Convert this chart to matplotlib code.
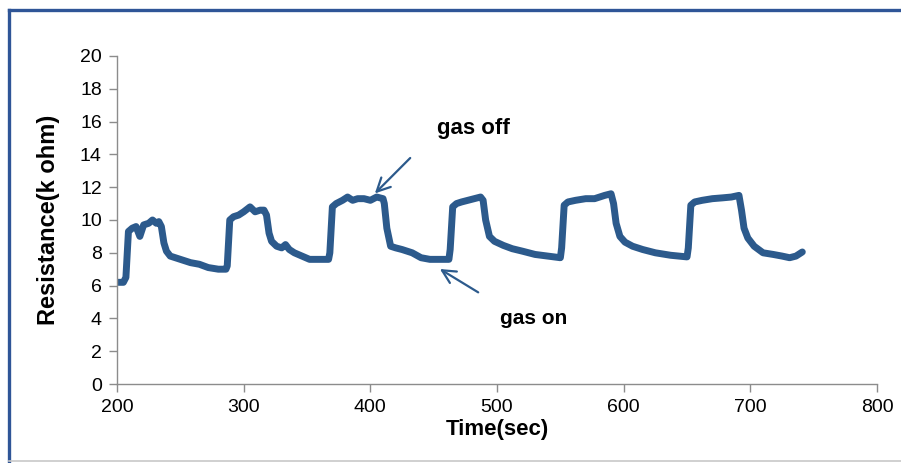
"""Sensor resistance response to repeated gas on/off cycles."""

import matplotlib

matplotlib.use("Agg")
import matplotlib.pyplot as plt  # noqa: E402
from matplotlib.patches import Rectangle  # noqa: E402

# time (s) and resistance (k ohm)
time_s = [
    200, 205, 207, 209, 212, 215, 218, 221, 225, 228, 231, 233, 235, 237, 239, 242,
    250, 258, 265, 272, 280, 286, 287, 289, 292, 296, 300, 305, 309, 313, 316, 318,
    320, 322, 326, 330, 333, 336, 340, 346, 352, 360, 367, 368, 370, 373, 378, 382,
    386, 390, 395, 400, 405, 410, 411, 413, 416, 420, 425, 433, 440, 447, 455, 462,
    463, 465, 468, 472, 477, 482, 487, 489, 491, 494, 498, 505, 512, 520, 530, 540, 550,
    551, 553, 556, 562, 570, 577, 585, 590, 592, 594, 597, 601, 607, 615, 625, 637,
    650, 651, 653, 656, 662, 670, 678, 685, 691, 693, 695, 698, 703, 710, 718, 725,
    731, 736, 741,
]
resistance = [
    6.2, 6.2, 6.5, 9.3, 9.5, 9.6, 9.0, 9.7, 9.8, 10.0, 9.8, 9.9, 9.6, 8.6, 8.1, 7.8,
    7.6, 7.4, 7.3, 7.1, 7.0, 7.0, 7.2, 10.0, 10.2, 10.3, 10.5, 10.8, 10.5, 10.6, 10.6, 10.3,
    9.2, 8.7, 8.4, 8.3, 8.5, 8.2, 8.0, 7.8, 7.6, 7.6, 7.6, 8.0, 10.8, 11.0, 11.2, 11.4,
    11.2, 11.3, 11.3, 11.2, 11.4, 11.3, 11.0, 9.5, 8.4, 8.3, 8.2, 8.0, 7.7, 7.6, 7.6, 7.6,
    8.2, 10.8, 11.0, 11.1, 11.2, 11.3, 11.4, 11.2, 10.0, 9.0, 8.7, 8.45, 8.25, 8.1, 7.9, 7.8, 7.7,
    8.3, 10.9, 11.1, 11.2, 11.3, 11.3, 11.5, 11.6, 11.0, 9.8, 9.0, 8.65, 8.4, 8.2, 8.0, 7.85,
    7.75, 8.3, 10.9, 11.1, 11.2, 11.3, 11.35, 11.4, 11.5, 10.6, 9.5, 8.9, 8.4, 8.0, 7.9, 7.8,
    7.7, 7.8, 8.05,
]

x_ticks = [200, 300, 400, 500, 600, 700, 800]
y_ticks = list(range(0, 21, 2))

LINE = "#2c5a8c"
GREY = "#8c8c8c"
FONT = ["Liberation Sans", "DejaVu Sans"]


def main() -> None:
    fig = plt.figure(figsize=(9.01, 4.63), dpi=100)
    # picture frame: blue top/left, light grey bottom
    fig.patches.append(Rectangle((0.0, 0.0), 1.0, 1.0, transform=fig.transFigure,
                                 facecolor="white", edgecolor="none", zorder=-5))
    fig.add_artist(plt.Line2D([0.0105, 0.0105], [0.0, 0.979], transform=fig.transFigure,
                              color="#2f5597", lw=2.4))
    fig.add_artist(plt.Line2D([0.0105, 1.0], [0.979, 0.979], transform=fig.transFigure,
                              color="#2f5597", lw=2.4))
    fig.add_artist(plt.Line2D([0.0105, 1.0], [0.004, 0.004], transform=fig.transFigure,
                              color="#c8c8c8", lw=1.2))

    ax = fig.add_axes([0.1299, 0.1706, 0.8435, 0.7085])
    ax.plot(time_s, resistance, color=LINE, lw=5.0, solid_joinstyle="round",
            solid_capstyle="round")

    ax.set_xlim(200, 800)
    ax.set_ylim(0, 20)
    ax.set_xticks(x_ticks)
    ax.set_yticks(y_ticks)
    for s in ("top", "right"):
        ax.spines[s].set_visible(False)
    for s in ("left", "bottom"):
        ax.spines[s].set_color(GREY)
        ax.spines[s].set_linewidth(1.0)
    ax.tick_params(direction="out", length=6, width=1.0, color=GREY, labelsize=14,
                   labelcolor="black", pad=5)
    for lab in ax.get_xticklabels() + ax.get_yticklabels():
        lab.set_family(FONT)

    ax.set_xlabel("Time(sec)", fontsize=16, fontweight="bold", family=FONT, labelpad=2)
    ax.set_ylabel("Resistance(k ohm)", fontsize=17, fontweight="bold", family=FONT,
                  labelpad=14)

    arrow = dict(arrowstyle="->", color=LINE, lw=1.6, mutation_scale=24)
    ax.annotate("", xy=(402, 11.5), xytext=(433, 13.9), arrowprops=arrow)
    ax.annotate("", xy=(453, 7.1), xytext=(487, 5.5), arrowprops=arrow)
    ax.text(481, 15.6, "gas off", fontsize=16, fontweight="bold", family=FONT,
            ha="center", va="center")
    ax.text(529, 4.0, "gas on", fontsize=15, fontweight="bold", family=FONT,
            ha="center", va="center")

    fig.savefig("out.png", dpi=100)
    plt.close(fig)


if __name__ == "__main__":
    main()
